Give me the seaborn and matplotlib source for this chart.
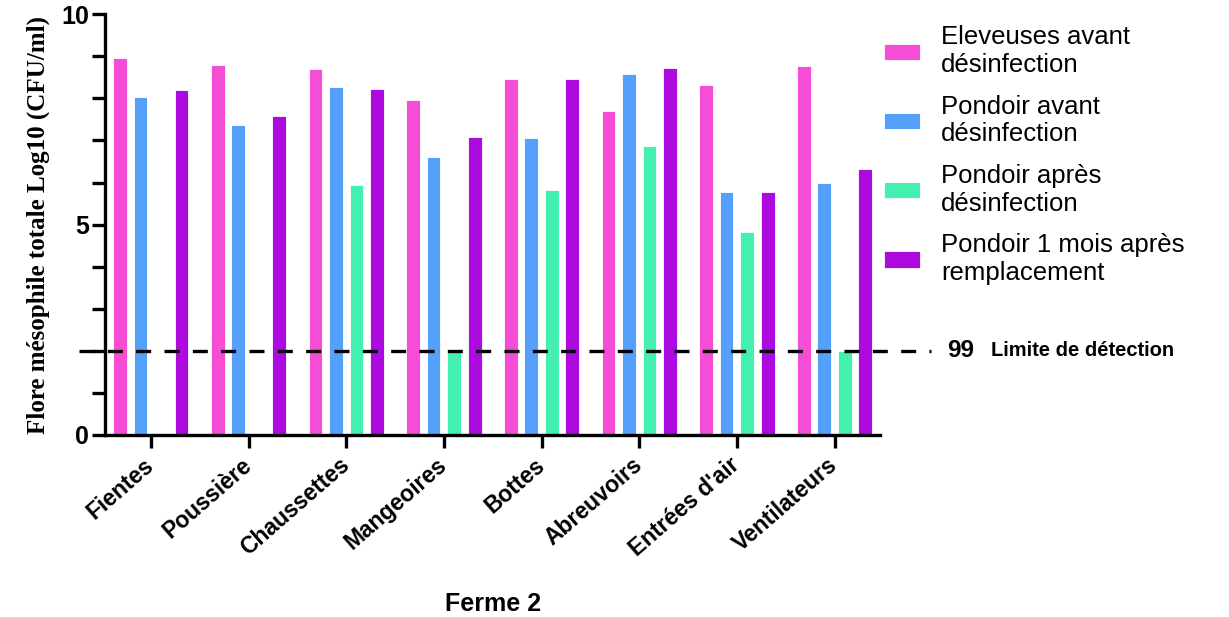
import numpy as np
import pandas as pd
import seaborn as sns
from matplotlib import pyplot as plt

categories = ['Fientes', 'Poussière', 'Chaussettes', 'Mangeoires', 'Bottes',
              'Abreuvoirs', "Entrées d'air", 'Ventilateurs']
series = ['Eleveuses avant\ndésinfection', 'Pondoir avant\ndésinfection',
          'Pondoir après\ndésinfection', 'Pondoir 1 mois après\nremplacement']

eleveuses_avant = [8.96, 8.79, 8.69, 7.96, 8.45, 7.71, 8.32, 8.76]
pondoir_avant = [8.03, 7.37, 8.26, 6.61, 7.05, 8.57, 5.77, 5.98]
pondoir_apres = [np.nan, np.nan, 5.93, 2.0, 5.83, 6.86, 4.82, 2.0]
pondoir_1mois = [8.19, 7.57, 8.23, 7.08, 8.47, 8.72, 5.77, 6.31]

detection_limit = 2.0
colors = ['#F64DD7', '#55A0FA', '#44F0B0', '#AD0AE0']

rows = []
for name, vals in zip(series, [eleveuses_avant, pondoir_avant, pondoir_apres, pondoir_1mois]):
    for cat, v in zip(categories, vals):
        rows.append({'Site': cat, 'Groupe': name, 'Valeur': v})
df = pd.DataFrame(rows).dropna()

sns.set_style('white')
plt.rcParams['font.family'] = ['Liberation Sans', 'DejaVu Sans']
plt.rcParams['text.color'] = 'black'
plt.rcParams['axes.labelcolor'] = 'black'
plt.rcParams['xtick.color'] = 'black'
plt.rcParams['ytick.color'] = 'black'

fig = plt.figure(figsize=(12.29, 6.17), dpi=100)
ax = fig.add_axes([0.0854, 0.295, 0.631, 0.682])

sns.barplot(data=df, x='Site', y='Valeur', hue='Groupe', order=categories,
            hue_order=series, palette=colors, width=0.84, gap=0.33,
            errorbar=None, saturation=1, edgecolor='white', linewidth=0.6, ax=ax)

ax.set_xlim(-0.47, 7.47)
ax.set_ylim(0, 10)

# limite de detection
ax.axhline(detection_limit, xmin=-0.033, xmax=1.065, color='black', lw=2.4,
           dashes=(4.5, 4), clip_on=False, zorder=5)
ax.text(1.086, detection_limit, '99', transform=ax.get_yaxis_transform(),
        fontsize=17.5, fontweight='bold', va='center', ha='left')
ax.text(1.143, detection_limit, 'Limite de détection', transform=ax.get_yaxis_transform(),
        fontsize=14.5, fontweight='bold', va='center', ha='left')

for side in ['top', 'right']:
    ax.spines[side].set_visible(False)
for side in ['left', 'bottom']:
    ax.spines[side].set_linewidth(2.4)
    ax.spines[side].set_color('black')

ax.set_yticks([0, 5, 10])
ax.set_yticks(np.arange(0, 11, 1), minor=True)
ax.tick_params(axis='y', which='major', length=9.5, width=2.4, direction='out', left=True,
               labelsize=18, pad=2)
ax.tick_params(axis='y', which='minor', length=9.5, width=2.4, direction='out', left=True)
for lab in ax.get_yticklabels():
    lab.set_fontweight('bold')

ax.tick_params(axis='x', length=9.5, width=2.4, direction='out', bottom=True, labelsize=16.5, pad=10)
ax.set_xticks(range(len(categories)))
ax.set_xticklabels(categories, rotation=41, ha='right', va='center', rotation_mode='anchor',
                   fontweight='bold')

ax.set_xlabel('Ferme 2', fontsize=18, fontweight='bold', labelpad=22)
ax.set_ylabel('Flore mésophile totale Log10 (CFU/ml)', fontsize=18, fontweight='bold',
              family='Liberation Serif', labelpad=8)

ax.legend(loc='upper left', bbox_to_anchor=(0.985, 1.01), frameon=False, fontsize=18.5,
          handlelength=1.4, handleheight=0.6, handletextpad=0.8, labelspacing=0.68,
          borderaxespad=0.2)

plt.savefig('out.png', dpi=100)
